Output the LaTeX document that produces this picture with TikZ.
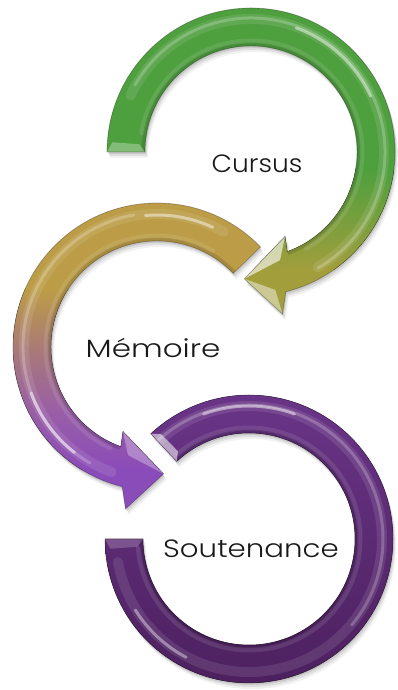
\documentclass[tikz,border=0pt]{standalone}
\usepackage{fontspec}
\IfFontExistsTF{Poppins Light}{\setmainfont{Poppins Light}}{\setmainfont{Poppins}}
\definecolor{gA}{HTML}{4E9F3E}
\definecolor{gB}{HTML}{A29E3C}
\definecolor{mA}{HTML}{BC9C46}
\definecolor{mB}{HTML}{A87A78}
\definecolor{mC}{HTML}{9A5FA5}
\definecolor{mD}{HTML}{8A4CB8}
\definecolor{pA}{HTML}{6A3588}
\definecolor{pB}{HTML}{4C205E}
% tail angle, tip angle, sign (paths centred on the origin)
\def\arrowpath#1#2#3{(#1:144) arc[start angle=#1,end angle={#2+17*(#3)},radius=144] -- ({#2+14*(#3)}:165) -- (#2:127) -- ({#2+25*(#3)}:91) -- ({#2+23*(#3)}:106) arc[start angle={#2+23*(#3)},end angle=#1,radius=106] -- cycle}
\def\ringpath{(180:144) arc[start angle=180,end angle=493,radius=144] -- (133:106) arc[start angle=133,end angle=-180,radius=106] -- cycle}
\tikzset{
  lbl/.style={font=\fontsize{25}{29}\selectfont, text=black!90, inner sep=0pt, anchor=base},
  shine/.style={draw=white, line width=#1, line cap=round, opacity=0.22},
  glow/.style={draw=white, line width=#1, line cap=round, opacity=0.10},
  edge/.style={draw=black, line width=0.7pt, opacity=0.28},
}
\begin{document}
\begin{tikzpicture}[x=1pt,y=1pt]
\useasboundingbox (0,0) rectangle (398,690);
% shadows
\foreach \dx/\dy/\op in {1/-2/0.10, 2/-4/0.08, 3/-6/0.05}{
  \begin{scope}[shift={(251+\dx,538+\dy)}]
    \fill[black, opacity=\op] \arrowpath{180}{-93}{1};
  \end{scope}
  \begin{scope}[shift={(157+\dx,343+\dy)}]
    \fill[black, opacity=\op] \arrowpath{44}{273}{-1};
  \end{scope}
  \begin{scope}[shift={(249+\dx,151+\dy)}]
    \fill[black, opacity=\op] \ringpath;
  \end{scope}
}
% top arrow (Cursus)
\begin{scope}[shift={(251,538)}]
  \begin{scope}
    \clip \arrowpath{180}{-93}{1};
    \fill[gA] (-251,152) rectangle (147,-18);
    \fill[top color=gA, bottom color=gB] (-251,-17) rectangle (147,-118);
    \fill[gB] (-251,-117) rectangle (147,-238);
    \draw[glow=10pt] (155:133) arc[start angle=155,end angle=-60,radius=133];
    \draw[shine=3pt] (150:134) arc[start angle=150,end angle=-60,radius=134];
    \draw[shine=3pt, opacity=0.45] (70:132) arc[start angle=70,end angle=25,radius=132];
    \draw[glow=5pt] (170:111) arc[start angle=170,end angle=-60,radius=111];
    \draw[black, opacity=0.12, line width=5pt] (180:107) arc[start angle=180,end angle=-70,radius=107];
    \fill[white, opacity=0.45] (-93:127) -- (-79:165) -- (-80:140) -- cycle;
    \fill[white, opacity=0.6] (-93:127) -- (-68:91) -- (-75:112) -- cycle;
    \fill[white, opacity=0.3] (180:144) -- (180:106) -- (176:112) -- (176:139) -- cycle;
  \end{scope}
  \draw[edge] \arrowpath{180}{-93}{1};
\end{scope}
% middle arrow (Memoire)
\begin{scope}[shift={(157,343)}]
  \begin{scope}
    \clip \arrowpath{44}{273}{-1};
    \fill[mA] (-157,347) rectangle (241,57);
    \fill[top color=mA, bottom color=mB] (-157,58) rectangle (241,-3);
    \fill[top color=mB, bottom color=mC] (-157,-2) rectangle (241,-63);
    \fill[top color=mC, bottom color=mD] (-157,-62) rectangle (241,-123);
    \fill[mD] (-157,-122) rectangle (241,-200);
    \draw[glow=10pt] (60:133) arc[start angle=60,end angle=250,radius=133];
    \draw[shine=3pt] (100:134) arc[start angle=100,end angle=240,radius=134];
    \draw[shine=3pt, opacity=0.45] (65:132) arc[start angle=65,end angle=95,radius=132];
    \draw[shine=3pt, opacity=0.5] (200:134) arc[start angle=200,end angle=232,radius=134];
    \draw[glow=5pt] (60:111) arc[start angle=60,end angle=245,radius=111];
    \draw[black, opacity=0.12, line width=5pt] (44:107) arc[start angle=44,end angle=250,radius=107];
    \fill[white, opacity=0.3] (273:127) -- (248:91) -- (255:112) -- cycle;
    \fill[white, opacity=0.25] (44:144) -- (44:106) -- (40:112) -- (41:138) -- cycle;
  \end{scope}
  \draw[edge] \arrowpath{44}{273}{-1};
\end{scope}
% bottom ring (Soutenance)
\begin{scope}[shift={(249,151)}]
  \begin{scope}
    \clip \ringpath;
    \fill[top color=pA, bottom color=pB] (-249,150) rectangle (149,-151);
    \draw[glow=10pt] (140:133) arc[start angle=140,end angle=-170,radius=133];
    \draw[shine=3pt] (150:134) arc[start angle=150,end angle=-40,radius=134];
    \draw[shine=3pt, opacity=0.45] (110:133) arc[start angle=110,end angle=70,radius=133];
    \draw[shine=3pt, opacity=0.4] (212:134) arc[start angle=212,end angle=242,radius=134];
    \draw[glow=5pt] (130:111) arc[start angle=130,end angle=-175,radius=111];
    \draw[black, opacity=0.15, line width=5pt] (133:107) arc[start angle=133,end angle=-180,radius=107];
    \fill[white, opacity=0.55] (133:144) -- (133:106) -- (129:113) -- (130:137) -- cycle;
    \fill[white, opacity=0.2] (180:144) -- (180:106) -- (184:112) -- (184:139) -- cycle;
  \end{scope}
  \draw[edge] \ringpath;
\end{scope}
% labels
\node[lbl, xscale=1.06] (cursus) at (257,517) {Cursus};
\node[lbl, xscale=1.24] (memoire) at (153,332) {Mémoire};
\node[lbl, xscale=1.17] (soutenance) at (251,132) {Soutenance};
\end{tikzpicture}
\end{document}
